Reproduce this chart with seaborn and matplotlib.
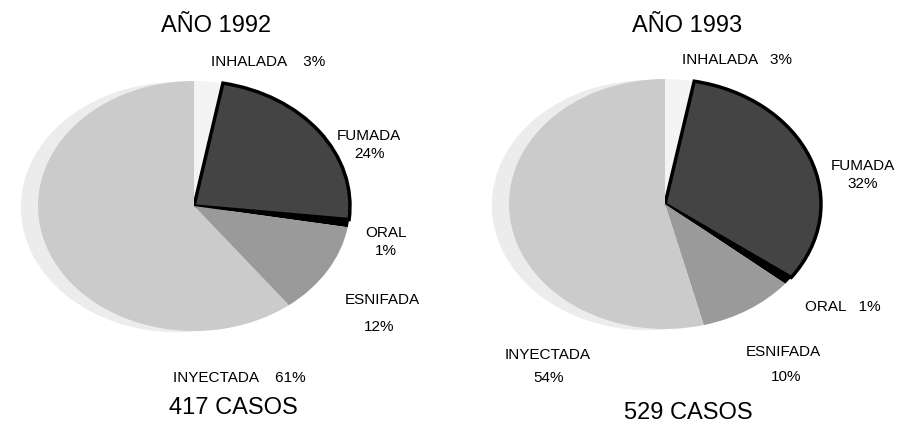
import matplotlib
matplotlib.use("Agg")
import matplotlib.pyplot as plt
import seaborn as sns

# datos: vía de administración, % de casos
vias = ["INHALADA", "FUMADA", "ORAL", "ESNIFADA", "INYECTADA"]
pct_1992 = [3, 24, 1, 12, 61]
pct_1993 = [3, 32, 1, 10, 54]
titulos = ["AÑO 1992", "AÑO 1993"]
casos = ["417 CASOS", "529 CASOS"]

sns.set_theme(style="white")
colores = ["#f4f4f4", "#444444", "#000000", "#9a9a9a", "#cbcbcb"]
fuente_titulo = ["Liberation Sans", "DejaVu Sans"]
fuente_etiq = ["Liberation Sans", "DejaVu Sans"]

W, H = 897, 428
fig = plt.figure(figsize=(W / 100, H / 100), dpi=100)
fig.patch.set_facecolor("white")


def px(x, y):
    # pixel (desde arriba-izquierda) -> fracción de figura
    return x / W, 1 - y / H


def tarta(cx, cy, valores):
    rx, ry = 156, 125
    ax = fig.add_axes([(cx - rx) / W, 1 - (cy + ry) / H, 2 * rx / W, 2 * ry / H])
    # sombra difusa a la izquierda
    ax.pie([1], colors=["#ececec"], radius=1.0, center=(-0.11, -0.01),
           wedgeprops=dict(linewidth=0))
    wedges, _ = ax.pie(valores, colors=colores, startangle=90, counterclock=False,
                       wedgeprops=dict(linewidth=0))
    wedges[1].set_edgecolor("black")
    wedges[1].set_linewidth(2.5)
    ax.set_aspect("auto")
    ax.set_xlim(-1, 1)
    ax.set_ylim(-1, 1)
    ax.axis("off")
    return ax


tarta(194, 206, pct_1992)
tarta(665, 204, pct_1993)

kw_t = dict(ha="center", va="center", fontsize=17, color="black", family=fuente_titulo)
kw_e = dict(ha="center", va="center", fontsize=11, color="black", family=fuente_etiq,
            linespacing=1.3)

# 1992
fig.text(*px(216, 26), titulos[0], **kw_t)
fig.text(*px(233, 408), casos[0], **kw_t)
fig.text(*px(268, 62), f"{vias[0]}    {pct_1992[0]}%", **kw_e)
fig.text(*px(369, 145), f"{vias[1]}\n{pct_1992[1]}%", **kw_e)
fig.text(*px(386, 242), f"{vias[2]}\n{pct_1992[2]}%", **kw_e)
fig.text(*px(382, 300), vias[3], **kw_e)
fig.text(*px(379, 327), f"{pct_1992[3]}%", **kw_e)
fig.text(*px(239, 378), f"{vias[4]}    {pct_1992[4]}%", **kw_e)

# 1993
fig.text(*px(687, 26), titulos[1], **kw_t)
fig.text(*px(688, 413), casos[1], **kw_t)
fig.text(*px(737, 60), f"{vias[0]}   {pct_1993[0]}%", **kw_e)
fig.text(*px(863, 175), f"{vias[1]}\n{pct_1993[1]}%", **kw_e)
fig.text(*px(843, 307), f"{vias[2]}   {pct_1993[2]}%", **kw_e)
fig.text(*px(783, 352), vias[3], **kw_e)
fig.text(*px(786, 377), f"{pct_1993[3]}%", **kw_e)
fig.text(*px(548, 355), vias[4], **kw_e)
fig.text(*px(549, 378), f"{pct_1993[4]}%", **kw_e)

fig.savefig("out.png", dpi=100, facecolor="white")
